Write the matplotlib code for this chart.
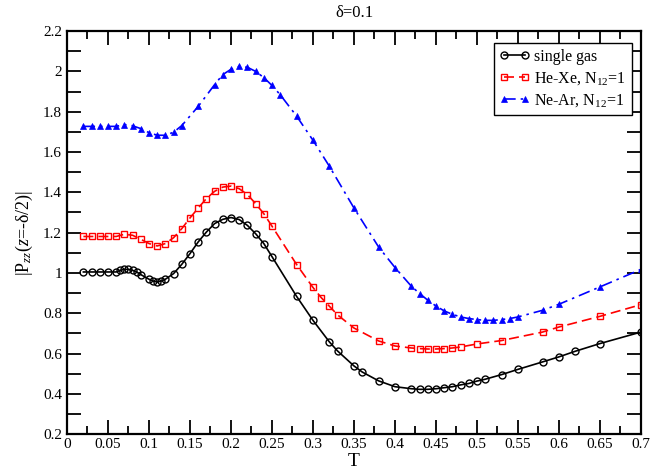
"""Pzz at the wall versus T for delta=0.1 (single gas and two mixtures)."""

import matplotlib

matplotlib.use("Agg")
import matplotlib.pyplot as plt
from matplotlib.ticker import MultipleLocator

plt.rcParams["font.family"] = ["Liberation Serif", "DejaVu Serif"]
plt.rcParams["mathtext.fontset"] = "custom"
plt.rcParams["mathtext.rm"] = "Liberation Serif"
plt.rcParams["mathtext.it"] = "Liberation Serif:italic"

# single gas
T_single = [0.02, 0.03, 0.04, 0.05, 0.06, 0.065, 0.07, 0.075, 0.08, 0.085, 0.09,
            0.10, 0.105, 0.11, 0.115, 0.12, 0.13, 0.14, 0.15, 0.16, 0.17, 0.18,
            0.19, 0.20, 0.21, 0.22, 0.23, 0.24, 0.25, 0.28, 0.30, 0.32, 0.33,
            0.35, 0.36, 0.38, 0.40, 0.42, 0.43, 0.44, 0.45, 0.46, 0.47, 0.48,
            0.49, 0.50, 0.51, 0.53, 0.55, 0.58, 0.60, 0.62, 0.65, 0.70]
P_single = [1.005, 1.005, 1.005, 1.005, 1.005, 1.013, 1.018, 1.018, 1.013, 1.005, 0.992,
            0.969, 0.960, 0.955, 0.960, 0.969, 0.997, 1.043, 1.096, 1.154, 1.203, 1.245,
            1.266, 1.275, 1.265, 1.236, 1.195, 1.146, 1.081, 0.884, 0.765, 0.658, 0.613,
            0.539, 0.509, 0.465, 0.436, 0.426, 0.423, 0.423, 0.426, 0.431, 0.436, 0.445,
            0.452, 0.464, 0.473, 0.496, 0.522, 0.559, 0.584, 0.612, 0.650, 0.707]

# He-Xe, N12=1
T_hexe = [0.02, 0.03, 0.04, 0.05, 0.06, 0.07, 0.08, 0.09, 0.10, 0.11, 0.12, 0.13,
          0.14, 0.15, 0.16, 0.17, 0.18, 0.19, 0.20, 0.21, 0.22, 0.23, 0.24, 0.25,
          0.28, 0.30, 0.31, 0.32, 0.33, 0.35, 0.38, 0.40, 0.42, 0.43, 0.44, 0.45,
          0.46, 0.47, 0.48, 0.50, 0.53, 0.58, 0.60, 0.65, 0.70]
P_hexe = [1.181, 1.181, 1.181, 1.181, 1.181, 1.192, 1.187, 1.167, 1.146, 1.134, 1.146, 1.175,
          1.220, 1.273, 1.322, 1.369, 1.405, 1.426, 1.431, 1.418, 1.389, 1.344, 1.294, 1.232,
          1.042, 0.928, 0.878, 0.835, 0.792, 0.727, 0.663, 0.638, 0.628, 0.625, 0.623, 0.623,
          0.625, 0.628, 0.633, 0.648, 0.665, 0.707, 0.732, 0.785, 0.843]

# Ne-Ar, N12=1
T_near = [0.02, 0.03, 0.04, 0.05, 0.06, 0.07, 0.08, 0.09, 0.10, 0.11, 0.12, 0.13,
          0.14, 0.16, 0.18, 0.19, 0.20, 0.21, 0.22, 0.23, 0.24, 0.25, 0.26, 0.28,
          0.30, 0.32, 0.35, 0.38, 0.40, 0.42, 0.43, 0.44, 0.45, 0.46, 0.47, 0.48,
          0.49, 0.50, 0.51, 0.52, 0.53, 0.54, 0.55, 0.58, 0.60, 0.65, 0.70]
P_near = [1.727, 1.727, 1.727, 1.727, 1.727, 1.736, 1.730, 1.716, 1.696, 1.683, 1.683, 1.698,
          1.731, 1.826, 1.934, 1.984, 2.010, 2.025, 2.020, 2.000, 1.969, 1.930, 1.884, 1.778,
          1.658, 1.529, 1.322, 1.129, 1.027, 0.934, 0.898, 0.865, 0.836, 0.812, 0.795, 0.782,
          0.774, 0.769, 0.765, 0.765, 0.769, 0.774, 0.782, 0.815, 0.845, 0.931, 1.018]

fig = plt.figure(figsize=(6.53, 4.72), dpi=100)
ax = fig.add_axes([0.1026, 0.0799, 0.879, 0.8544])

ax.plot(T_single, P_single, color="black", linewidth=1.2, marker="o", markersize=5,
        markerfacecolor="none", markeredgewidth=1.0, label="single gas")
ax.plot(T_hexe, P_hexe, color="red", linewidth=1.2, linestyle=(0, (6, 3)), marker="s",
        markersize=4.2, markerfacecolor="none", markeredgewidth=1.0,
        label=r"He-Xe, N$_{12}$=1")
ax.plot(T_near, P_near, color="blue", linewidth=1.2, linestyle=(0, (7, 3, 1.5, 3)),
        marker="^", markersize=5, markeredgewidth=0.5, label=r"Ne-Ar, N$_{12}$=1")

ax.set_xlim(0, 0.7)
ax.set_ylim(0.2, 2.2)
ax.xaxis.set_major_locator(MultipleLocator(0.05))
ax.xaxis.set_minor_locator(MultipleLocator(0.025))
ax.yaxis.set_major_locator(MultipleLocator(0.2))
ax.yaxis.set_minor_locator(MultipleLocator(0.1))
ax.xaxis.set_major_formatter(lambda v, pos: f"{v:g}")
ax.yaxis.set_major_formatter(lambda v, pos: f"{v:g}")

ax.tick_params(which="both", direction="in", top=True, right=True, width=1.3, labelsize=11)
ax.tick_params(axis="x", which="major", length=10, pad=3)
ax.tick_params(axis="x", which="minor", length=6)
ax.tick_params(axis="y", which="both", length=10)
for s in ax.spines.values():
    s.set_linewidth(1.6)

ax.set_xlabel("T", fontsize=14, labelpad=1)
ax.set_ylabel(r"|P$_{zz}$($z$=-δ/2)|", fontsize=13, labelpad=6)
ax.set_title("δ=0.1", fontsize=12, pad=10)

leg = ax.legend(loc="upper right", bbox_to_anchor=(0.998, 0.99), fontsize=11.5,
                numpoints=2, handlelength=1.9, handletextpad=0.3, borderpad=0.35,
                labelspacing=0.35, fancybox=False, framealpha=1)
leg.get_frame().set_edgecolor("black")
leg.get_frame().set_linewidth(1.0)

fig.savefig("out.png", dpi=100)
